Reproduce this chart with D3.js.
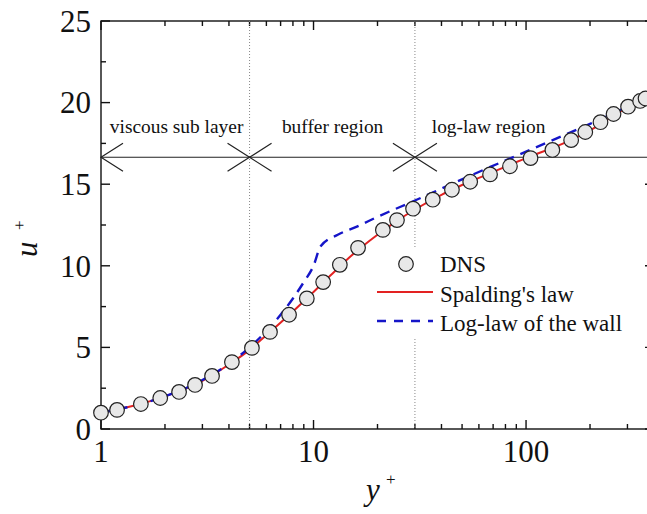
<!DOCTYPE html>
<html>
<head>
<meta charset="utf-8">
<script src="https://cdn.jsdelivr.net/npm/d3@7"></script>
<style>
  body { margin: 0; background: #fff; }
  svg { display: block; }
  text { font-family: "Liberation Serif", "Times New Roman", serif; fill: #111; }
</style>
</head>
<body>
<svg id="chart" width="647" height="514"></svg>
<script>
// DNS points (y+, u+)
const dnsY = [1.0, 1.19, 1.54, 1.9, 2.33, 2.77, 3.33, 4.13, 5.13, 6.24, 7.67, 9.3, 11.1, 13.3, 16.2, 21.2, 24.7, 29.4, 36.4, 44.8, 54.6, 67.7, 84, 105, 133, 163, 190, 224, 258, 302, 344, 365];
const dnsU = [1.0, 1.17, 1.53, 1.9, 2.27, 2.7, 3.25, 4.1, 4.97, 5.95, 7.0, 8.0, 9.0, 10.06, 11.1, 12.2, 12.8, 13.5, 14.05, 14.66, 15.15, 15.6, 16.1, 16.6, 17.1, 17.7, 18.2, 18.8, 19.3, 19.75, 20.1, 20.25];

// Spalding's law curve
const spaldingY = [1, 1.5, 2, 3, 4, 5, 6, 8, 10, 12, 15, 20, 25, 30, 40, 50, 70, 100, 150, 200, 300, 400];
const spaldingU = [1.0, 1.5, 2.0, 2.95, 3.95, 4.85, 5.75, 7.2, 8.4, 9.4, 10.6, 11.9, 12.8, 13.45, 14.35, 14.95, 15.75, 16.6, 17.5, 18.3, 19.7, 20.4];

// Log-law of the wall (linear part, then log part)
const logLawY = [1, 1.5, 2, 3, 4, 5, 6, 7, 8, 9, 10, 10.8, 13, 16, 20, 30, 50, 100, 200, 400];
const logLawU = [1, 1.5, 2, 3, 4, 5, 6, 7, 8, 9, 10, 11.2, 11.9, 12.4, 13.0, 14.0, 15.3, 17.0, 18.7, 20.5];

// regions
const regionBounds = [5, 30];
const regionLabels = ["viscous sub layer", "buffer region", "log-law region"];
const regionLabelX = [1.1, 7.1, 36];
const regionLineU = 16.65;

const xTicks = [1, 10, 100];
const yTicks = [0, 5, 10, 15, 20, 25];

const svg = d3.select("#chart");
const margin = {left: 101, top: 21, bottom: 429};
const plotRight = 654;

const x = d3.scaleLog().domain([1, 400]).range([margin.left, plotRight]);
const y = d3.scaleLinear().domain([0, 25]).range([margin.bottom, margin.top]);

// minor ticks
const xMinor = [];
for (let d = 1; d <= 100; d *= 10) {
  for (let k = 2; k <= 9; k++) if (d * k <= 400) xMinor.push(d * k);
}
const yMinor = d3.range(2.5, 25, 5);

const axisG = svg.append("g").attr("stroke", "#111").attr("stroke-width", 1.4);

// dotted region boundaries
svg.append("g").selectAll("line").data(regionBounds).enter().append("line")
  .attr("x1", d => x(d)).attr("x2", d => x(d))
  .attr("y1", margin.top).attr("y2", margin.bottom)
  .attr("stroke", "#888").attr("stroke-width", 1).attr("stroke-dasharray", "1,2");

// region arrow line
const lineY = y(regionLineU);
const arrows = svg.append("g").attr("stroke", "#222").attr("stroke-width", 1.2).attr("fill", "none");
arrows.append("line").attr("x1", margin.left).attr("x2", 647).attr("y1", lineY).attr("y2", lineY);
const arm = {dx: 22, dy: 14};
function arrowHead(px, dir) {
  arrows.append("path")
    .attr("d", `M${px + dir * arm.dx},${lineY - arm.dy}L${px},${lineY}L${px + dir * arm.dx},${lineY + arm.dy}`);
}
arrowHead(x(1), 1);
regionBounds.forEach(b => { arrowHead(x(b), 1); arrowHead(x(b), -1); });

svg.append("g").selectAll("text").data(regionLabels).enter().append("text")
  .attr("x", (d, i) => x(regionLabelX[i]))
  .attr("y", 133)
  .attr("font-size", "19.4px")
  .text(d => d);

// curves
const line = d3.line().x(d => x(d[0])).y(d => y(d[1])).curve(d3.curveMonotoneX);
svg.append("path")
  .datum(spaldingY.map((v, i) => [v, spaldingU[i]]))
  .attr("d", line)
  .attr("fill", "none").attr("stroke", "#e32222").attr("stroke-width", 2);

svg.append("path")
  .datum(logLawY.map((v, i) => [v, logLawU[i]]))
  .attr("d", line)
  .attr("fill", "none").attr("stroke", "#1515c8").attr("stroke-width", 2.4)
  .attr("stroke-dasharray", "10,7");

svg.append("g").selectAll("circle").data(dnsY.map((v, i) => [v, dnsU[i]])).enter().append("circle")
  .attr("cx", d => x(d[0])).attr("cy", d => y(d[1]))
  .attr("r", 7.3)
  .attr("fill", "#e8e8e8").attr("stroke", "#222").attr("stroke-width", 1.2);

// legend
const legend = svg.append("g");
legend.append("rect").attr("x", 372).attr("y", 248).attr("width", 272).attr("height", 90).attr("fill", "#fff");
legend.append("circle").attr("cx", 406).attr("cy", 264).attr("r", 7.3)
  .attr("fill", "#e8e8e8").attr("stroke", "#222").attr("stroke-width", 1.2);
legend.append("line").attr("x1", 377).attr("x2", 433).attr("y1", 292).attr("y2", 292)
  .attr("stroke", "#e32222").attr("stroke-width", 2);
legend.append("line").attr("x1", 377).attr("x2", 433).attr("y1", 321).attr("y2", 321)
  .attr("stroke", "#1515c8").attr("stroke-width", 2.4).attr("stroke-dasharray", "9,8");
const legendNames = ["DNS", "Spalding's law", "Log-law of the wall"];
legend.selectAll("text").data(legendNames).enter().append("text")
  .attr("x", 440).attr("y", (d, i) => 272 + i * 29.5)
  .attr("font-size", "23px")
  .text(d => d);

// frame
axisG.append("rect").attr("x", margin.left).attr("y", margin.top)
  .attr("width", plotRight - margin.left).attr("height", margin.bottom - margin.top)
  .attr("fill", "none");

// ticks: bottom & top, left & right (all inward)
const tickMajor = 9, tickMinor = 5;
function xTickMarks(vals, len) {
  vals.forEach(v => {
    axisG.append("line").attr("x1", x(v)).attr("x2", x(v)).attr("y1", margin.bottom).attr("y2", margin.bottom - len);
    axisG.append("line").attr("x1", x(v)).attr("x2", x(v)).attr("y1", margin.top).attr("y2", margin.top + len);
  });
}
xTickMarks(xTicks, tickMajor);
xTickMarks(xMinor, tickMinor);
function yTickMarks(vals, len) {
  vals.forEach(v => {
    axisG.append("line").attr("x1", margin.left).attr("x2", margin.left + len).attr("y1", y(v)).attr("y2", y(v));
    axisG.append("line").attr("x1", plotRight).attr("x2", plotRight - len).attr("y1", y(v)).attr("y2", y(v));
  });
}
yTickMarks(yTicks, tickMajor);
yTickMarks(yMinor, tickMinor);

// tick labels
svg.append("g").selectAll("text").data(xTicks).enter().append("text")
  .attr("x", d => x(d)).attr("y", 462)
  .attr("text-anchor", "middle").attr("font-size", "31px")
  .text(d => d);
svg.append("g").selectAll("text").data(yTicks).enter().append("text")
  .attr("x", 91).attr("y", d => y(d)).attr("dy", "0.35em")
  .attr("text-anchor", "end").attr("font-size", "31px")
  .text(d => d);

// axis titles
svg.append("text").attr("x", 366).attr("y", 500).attr("font-size", "31px")
  .attr("font-style", "italic").text("y");
svg.append("text").attr("x", 386).attr("y", 485).attr("font-size", "17px").text("+");

svg.append("text").attr("transform", "translate(37,257) rotate(-90)").attr("font-size", "31px")
  .attr("font-style", "italic").text("u");
svg.append("text").attr("transform", "translate(25,230) rotate(-90)").attr("font-size", "17px").text("+");
</script>
</body>
</html>
